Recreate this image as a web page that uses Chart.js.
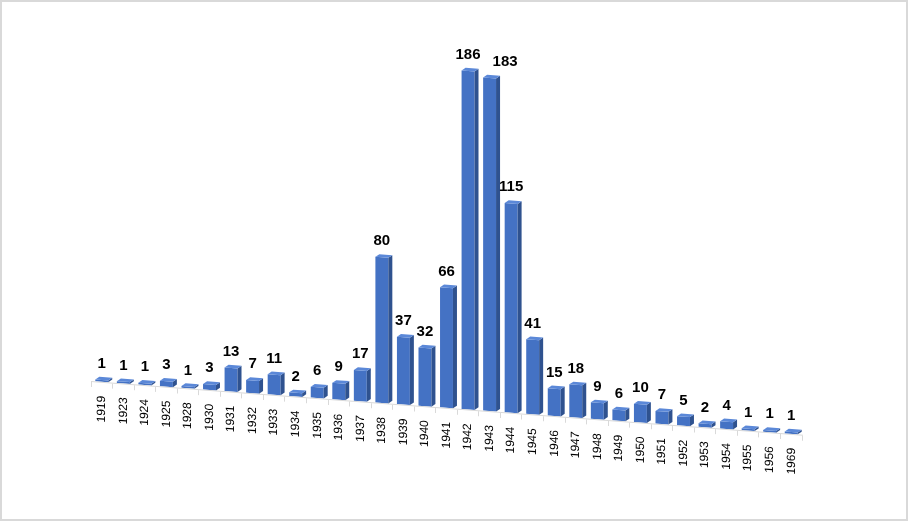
<!DOCTYPE html>
<html>
<head>
<meta charset="utf-8">
<script src="https://cdn.jsdelivr.net/npm/chart.js@4.4.0/dist/chart.umd.min.js"></script>
<style>
  html, body { margin: 0; padding: 0; background: #fff; }
  #wrap { position: relative; width: 908px; height: 521px; }
  #frame { position: absolute; left: 0; top: 0; width: 908px; height: 521px; box-sizing: border-box; border: 2px solid #d9d9d9; pointer-events: none; }
  canvas { position: absolute; left: 0; top: 0; }
</style>
</head>
<body>
<div id="wrap">
  <canvas id="c" width="908" height="521"></canvas>
  <div id="frame"></div>
</div>
<script>
const years = ["1919","1923","1924","1925","1928","1930","1931","1932","1933","1934","1935","1936","1937","1938","1939","1940","1941","1942","1943","1944","1945","1946","1947","1948","1949","1950","1951","1952","1953","1954","1955","1956","1969"];
const counts = [1,1,1,3,1,3,13,7,11,2,6,9,17,80,37,32,66,186,183,115,41,15,18,9,6,10,7,5,2,4,1,1,1];

const SLOPE = 0.0755;   // perspective tilt of the floor
const DEPTH_X = 4, DEPTH_Y = 3;
const FONT = '"Liberation Sans", Arial, sans-serif';

const tiltPlugin = {
  id: 'tilt',
  beforeDraw(chart) {
    const ctx = chart.ctx;
    const x0 = chart.chartArea.left;
    ctx.save();
    ctx.transform(1, SLOPE, 0, 1, 0, -SLOPE * x0);
  },
  afterDatasetsDraw(chart) {
    const ctx = chart.ctx;
    const meta = chart.getDatasetMeta(0);
    meta.data.forEach(el => {
      const hw = el.width / 2;
      const r = el.x + hw, l = el.x - hw;
      // side face
      ctx.beginPath();
      ctx.moveTo(r, el.y);
      ctx.lineTo(r + DEPTH_X, el.y - DEPTH_Y);
      ctx.lineTo(r + DEPTH_X, el.base - DEPTH_Y);
      ctx.lineTo(r, el.base);
      ctx.closePath();
      ctx.fillStyle = '#2f528f';
      ctx.fill();
      // top face
      ctx.beginPath();
      ctx.moveTo(l, el.y);
      ctx.lineTo(l + DEPTH_X, el.y - DEPTH_Y);
      ctx.lineTo(r + DEPTH_X, el.y - DEPTH_Y);
      ctx.lineTo(r, el.y);
      ctx.closePath();
      ctx.fillStyle = '#5b88d8';
      ctx.fill();
    });
  },
  afterDraw(chart) {
    const ctx = chart.ctx;
    ctx.restore();
    const x0 = chart.chartArea.left;
    const meta = chart.getDatasetMeta(0);
    ctx.save();
    ctx.font = 'bold 15px ' + FONT;
    ctx.fillStyle = '#000';
    ctx.textAlign = 'center';
    ctx.textBaseline = 'alphabetic';
    let prev = null; // {right, y}
    meta.data.forEach((el, i) => {
      const txt = String(counts[i]);
      const w = ctx.measureText(txt).width;
      const yTop = el.y + SLOPE * (el.x - x0);
      let x = el.x, y = yTop - 12;
      if (prev && x - w / 2 < prev.right + 2 && Math.abs(y - prev.y) < 16) {
        x = prev.right + 12 + w / 2;
      }
      ctx.fillText(txt, x, y);
      prev = { right: x + w / 2, y: y };
    });
    ctx.restore();
  }
};

new Chart(document.getElementById('c'), {
  type: 'bar',
  data: {
    labels: years,
    datasets: [{
      data: counts,
      backgroundColor: '#4472c4',
      borderWidth: 0,
      categoryPercentage: 1,
      barPercentage: 0.6
    }]
  },
  options: {
    responsive: false,
    animation: false,
    devicePixelRatio: 1,
    layout: { padding: { left: 91, right: 106, top: 17, bottom: 0 } },
    plugins: { legend: { display: false }, tooltip: { enabled: false } },
    scales: {
      y: { display: false, min: 0, max: 200 },
      x: {
        grid: { display: true, drawOnChartArea: false, drawTicks: true, tickLength: 6, color: '#d9d9d9', offset: true },
        border: { display: true, color: '#d9d9d9', width: 1 },
        ticks: { autoSkip: false, minRotation: 90, maxRotation: 90, padding: 8, color: '#000', font: { size: 12, family: FONT } },
        afterFit(scale) { scale.height = 140; }
      }
    }
  },
  plugins: [tiltPlugin]
});
</script>
</body>
</html>
